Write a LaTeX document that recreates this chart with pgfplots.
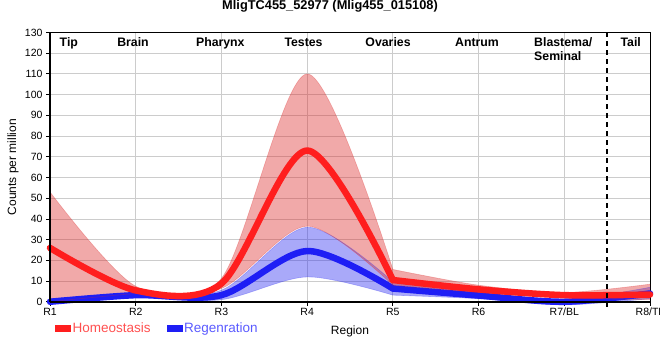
\documentclass[border=0pt]{standalone}
\usepackage{pgfplots}
\pgfplotsset{compat=1.18}
\usepgfplotslibrary{fillbetween}
\usepackage{pgfplotstable}
\usepackage{fontspec}
\setmainfont{Liberation Sans}

\definecolor{hred}{RGB}{255,30,30}
\definecolor{hband}{RGB}{220,40,40}
\definecolor{rblue}{RGB}{30,30,245}
\definecolor{rband}{RGB}{40,40,240}
\definecolor{htext}{RGB}{255,80,80}
\definecolor{rtext}{RGB}{90,90,255}
\definecolor{gridgray}{RGB}{204,204,204}

\pgfplotstableread{
x mid lo hi
0 26 0 53
1 5.5 4 7.5
2 8.8 6.4 11.3
3 73 36.5 110
4 10.5 8 15.6
5 6 4.5 8
6 3.2 2 4.5
7 3.5 1 8.5
}\homeo
\pgfplotstableread{
x mid lo hi
0 0 -1 1.5
1 3.2 2 4
2 3.2 1 5.6
3 24.5 12 36
4 6.4 3.2 9.7
5 3 1.5 4.5
6 0 -1.5 1
7 4 1.5 7
}\regen

\pgfplotsset{
 segA/.style={restrict x to domain=0:4},
 segB/.style={restrict x to domain=4:7},
 curve/.style={smooth, tension=0.5},
}

\begin{document}
\begin{tikzpicture}
\path (0,0) rectangle (660pt,360pt);
\begin{axis}[
 at={(50pt,60pt)}, anchor=south west,
 scale only axis, width=600pt, height=269.3pt,
 xmin=0, xmax=7, ymin=0, ymax=130,
 xtick={0,...,7}, xticklabels={R1,R2,R3,R4,R5,R6,R7/BL,\makebox[0pt][c]{R8/TL}},
 ytick={0,10,...,130},
 grid=major, grid style={draw=gridgray, line width=0.8pt},
 tick align=outside, tick pos=left, major tick length=4pt,
 tick style={black, line width=0.8pt},
 axis line style={black, line width=0.9pt},
 ticklabel style={font=\fontsize{10.5}{12}\selectfont},
 xticklabel style={yshift=1pt},
 /pgf/number format/assume math mode=true,
 xlabel={Region}, ylabel={Counts per million},
 label style={font=\fontsize{12}{14}\selectfont, inner sep=0pt},
 xlabel style={at={(axis description cs:0.5,-0.1114)}, anchor=center},
 ylabel style={at={(axis description cs:-0.0617,0.5)}, anchor=center},
 title={\textbf{MligTC455\_52977 (Mlig455\_015108)}},
 title style={at={(axis description cs:0.4667,1)}, anchor=base, yshift=17.2pt, inner sep=0pt, font=\fontsize{12.8}{14}\selectfont},
 clip=false,
 legend style={at={(axis description cs:0.0083,-0.07)}, anchor=north west, draw=none, fill=none, inner sep=0pt, font=\fontsize{13.5}{15}\selectfont, /tikz/every even column/.append style={column sep=14pt}, nodes={inner sep=2pt}},
 legend columns=2,
 legend cell align=left,
]
% Regeneration band and line
\pgfplotsinvokeforeach{A,B}{
\addplot[name path=bhi#1, seg#1, draw=rband, draw opacity=0.3, line width=0.6pt, curve, forget plot] table[x=x,y=hi]{\regen};
\addplot[name path=blo#1, seg#1, draw=rband, draw opacity=0.3, line width=0.6pt, curve, forget plot] table[x=x,y=lo]{\regen};
\addplot[fill=rband, fill opacity=0.4, draw=none, forget plot] fill between[of=bhi#1 and blo#1];
}
\pgfplotsinvokeforeach{A,B}{
\addplot[seg#1, rblue, line width=6.5pt, curve, line cap=round, line join=round, forget plot] table[x=x,y=mid]{\regen};
}
% Homeostasis band and line
\pgfplotsinvokeforeach{A,B}{
\addplot[name path=rhi#1, seg#1, draw=hband, draw opacity=0.3, line width=0.6pt, curve, forget plot] table[x=x,y=hi]{\homeo};
\addplot[name path=rlo#1, seg#1, draw=hband, draw opacity=0.3, line width=0.6pt, curve, forget plot] table[x=x,y=lo]{\homeo};
\addplot[fill=hband, fill opacity=0.4, draw=none, forget plot] fill between[of=rhi#1 and rlo#1];
}
\pgfplotsinvokeforeach{A,B}{
\addplot[seg#1, hred, line width=6.5pt, curve, line cap=round, line join=round, forget plot] table[x=x,y=mid]{\homeo};
}

\addlegendimage{legend image code/.code={\fill[hred] (0pt,-3pt) rectangle (15pt,3pt);}}
\addlegendentry{\textcolor{htext}{Homeostasis}}
\addlegendimage{legend image code/.code={\fill[rblue] (0pt,-3pt) rectangle (15pt,3pt);}}
\addlegendentry{\textcolor{rtext}{Regenration}}

% thick left and bottom axis lines
\draw[black, line width=2.5pt] (rel axis cs:0,0) -- (rel axis cs:1,0);
\draw[black, line width=2.5pt] (rel axis cs:0,0) -- (rel axis cs:0,1);
% dashed separator
\draw[black, line width=2pt, dash pattern=on 5pt off 4pt] (axis cs:6.5,-2.5) -- (axis cs:6.5,130);
% region names
\begin{scope}[every node/.style={font=\bfseries\fontsize{12.3}{14}\selectfont, anchor=base, inner sep=0pt}]
\node at (axis cs:0.22,123.4) {Tip};
\node at (axis cs:0.968,123.4) {Brain};
\node at (axis cs:1.987,123.4) {Pharynx};
\node at (axis cs:2.958,123.4) {Testes};
\node at (axis cs:3.944,123.4) {Ovaries};
\node at (axis cs:4.982,123.4) {Antrum};
\node[anchor=base west] at (axis cs:5.647,123.4) {Blastema/};
\node[anchor=base west] at (axis cs:5.647,116.3) {Seminal};
\node at (axis cs:6.775,123.4) {Tail};
\end{scope}
\end{axis}
\end{tikzpicture}
\end{document}
